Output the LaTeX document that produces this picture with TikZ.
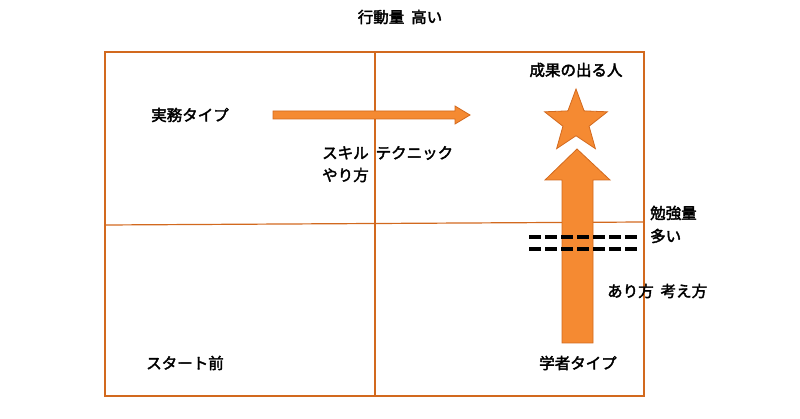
\documentclass[tikz,border=0pt]{standalone}
\usepackage{fontspec}
\newfontfamily\jp{Noto Sans CJK JP}[AutoFakeBold=2.5]
\usetikzlibrary{shapes.geometric}
\definecolor{org}{HTML}{F58A32}
\definecolor{orgd}{HTML}{D2691E}
\begin{document}
\begin{tikzpicture}[x=1pt,y=-1pt,
  lbl/.style={font=\jp\bfseries\fontsize{15.5}{19}\selectfont, inner sep=0pt},
  lblL/.style={lbl, anchor=west, align=left},
  frame/.style={draw=orgd, line width=1.2pt},
  fillshape/.style={fill=org, draw=orgd, line width=0.8pt}]
\useasboundingbox (0,0) rectangle (800,419);
\draw[frame] (105,52) rectangle (644,396);
\draw[frame] (375,52) -- (375,396);
\draw[frame] (105,225) -- (644,222);
% right arrow
\draw[fillshape] (273,111) -- (455,111) -- (455,106) -- (470,115) -- (455,124) -- (455,119) -- (273,119) -- cycle;
% up arrow
\draw[fillshape] (562,343) -- (562,180) -- (545,180) -- (577,149) -- (610,180) -- (593,180) -- (593,343) -- cycle;
\node[star, star points=5, star point ratio=2.4, minimum size=66pt, fillshape, inner sep=0pt] (star) at (576,122) {};
\draw[line width=4pt, dash pattern=on 12pt off 4pt] (529,237) -- (638,237);
\draw[line width=4pt, dash pattern=on 12pt off 4pt] (529,249) -- (638,249);
\node[lbl] (t1) at (400,17) {行動量\ \ 高い};
\node[lbl] (t2) at (576,70) {成果の出る人};
\node[lbl] (t3) at (190,115) {実務タイプ};
\node[lblL] (t4) at (322,153) {スキル\ \ テクニック};
\node[lblL] (t5) at (322,175) {やり方};
\node[lblL] (t6) at (650,213) {勉強量};
\node[lblL] (t7) at (650,236) {多い};
\node[lblL] (t8) at (607,291) {あり方\ \ 考え方};
\node[lbl] (t9) at (185,363) {スタート前};
\node[lbl] (t10) at (578,363) {学者タイプ};
\end{tikzpicture}
\end{document}
